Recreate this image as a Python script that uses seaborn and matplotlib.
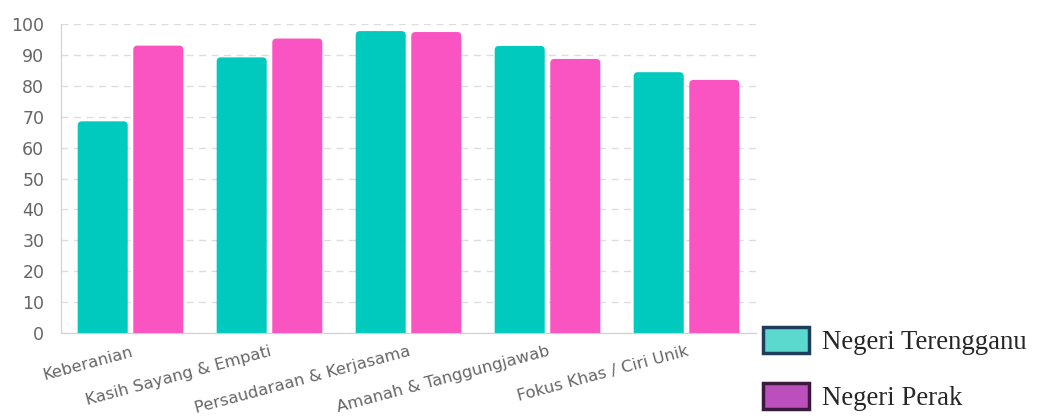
import matplotlib
matplotlib.use('Agg')
import matplotlib.pyplot as plt
import pandas as pd
import seaborn as sns
from matplotlib.patches import FancyBboxPatch, Patch

categories = ['Keberanian', 'Kasih Sayang & Empati', 'Persaudaraan & Kerjasama',
              'Amanah & Tanggungjawab', 'Fokus Khas / Ciri Unik']
terengganu = [68.5, 89.2, 97.7, 92.9, 84.4]
perak = [93.0, 95.3, 97.4, 88.7, 81.9]
series = ['Negeri Terengganu', 'Negeri Perak']

bar_colors = ['#00c9be', '#f954c1']
legend_faces = ['#5bd9cf', '#bb50bc']
legend_edges = ['#1f3d5c', '#3b1a3d']

df = pd.DataFrame({
    'category': categories * 2,
    'value': terengganu + perak,
    'series': [series[0]] * len(categories) + [series[1]] * len(categories),
})

sns.set_style('white')
plt.rcParams['font.family'] = ['DejaVu Sans']

fig = plt.figure(figsize=(10.4, 4.19), dpi=100)
ax = fig.add_axes([61 / 1040, (419 - 333) / 419, (756 - 61) / 1040, (333 - 24) / 419])

sns.barplot(df, x='category', y='value', hue='series', palette=bar_colors,
            width=0.8, gap=0.1, legend=False, ax=ax, saturation=1)

# rounded bar tops (bottom hidden below the axis)
for p in list(ax.patches):
    x, w, h = p.get_x(), p.get_width(), p.get_height()
    fb = FancyBboxPatch((x, -3), w, h + 3, boxstyle='round,pad=0,rounding_size=0.03',
                        mutation_aspect=45, facecolor=p.get_facecolor(), edgecolor='none')
    p.remove()
    ax.add_patch(fb)

ax.set_ylim(0, 100)
ax.set_xlim(-0.5, len(categories) - 0.5)
ax.set_yticks(range(0, 101, 10))
ax.set_xlabel('')
ax.set_ylabel('')
ax.yaxis.grid(True, linestyle=(0, (5, 4)), color='#dddddd', linewidth=1)
ax.set_axisbelow(True)
for side in ['top', 'right']:
    ax.spines[side].set_visible(False)
for side in ['left', 'bottom']:
    ax.spines[side].set_color('#d0d0d0')
ax.tick_params(axis='y', length=9, color='#e4e4e4', labelsize=12.5, labelcolor='#666666', pad=3)
ax.tick_params(axis='x', length=0, labelsize=11.8, labelcolor='#666666', pad=8)
for lbl in ax.get_xticklabels():
    lbl.set_rotation(15)
    lbl.set_ha('right')
    lbl.set_rotation_mode('anchor')

handles = [Patch(facecolor=f, edgecolor=e, linewidth=2.5) for f, e in zip(legend_faces, legend_edges)]
fig.legend(handles, series, loc='upper left', bbox_to_anchor=(763 / 1040, (419 - 327) / 419),
           frameon=False, prop={'family': 'Liberation Serif', 'size': 19.3},
           handlelength=1.7, handleheight=1.1, handletextpad=0.5,
           labelspacing=1.05, borderpad=0, borderaxespad=0)

fig.savefig('out.png', dpi=100)
